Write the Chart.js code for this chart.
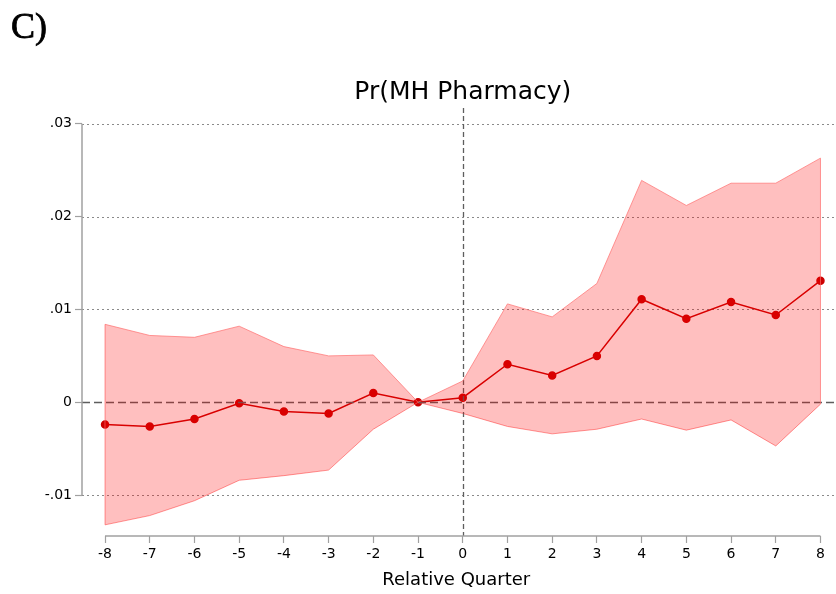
<!DOCTYPE html>
<html>
<head>
<meta charset="utf-8">
<script src="https://cdn.jsdelivr.net/npm/chart.js@4"></script>
<style>
  html, body { margin: 0; padding: 0; background: #fff; }
  #wrap { position: relative; width: 836px; height: 594px; }
</style>
</head>
<body>
<div id="wrap"><canvas id="eventChart" width="836" height="594"></canvas></div>
<script>
// event-study coefficients, Pr(MH Pharmacy)
const quarters = [-8, -7, -6, -5, -4, -3, -2, -1, 0, 1, 2, 3, 4, 5, 6, 7, 8];
const coef    = [-0.0024, -0.0026, -0.0018, -0.0001, -0.0010, -0.0012, 0.0010, 0, 0.0005, 0.0041, 0.0029, 0.0050, 0.0111, 0.0090, 0.0108, 0.0094, 0.0131];
const ciUpper = [0.0084, 0.0072, 0.0070, 0.0082, 0.0060, 0.0050, 0.0051, 0, 0.0023, 0.0106, 0.0092, 0.0128, 0.0239, 0.0212, 0.0236, 0.0236, 0.0263];
const ciLower = [-0.0132, -0.0122, -0.0106, -0.0084, -0.0079, -0.0073, -0.0029, 0, -0.0012, -0.0026, -0.0034, -0.0029, -0.0018, -0.0030, -0.0019, -0.0047, -0.0002];
const yTicks = [-0.01, 0, 0.01, 0.02, 0.03];

const FONT = '"DejaVu Sans", "Liberation Sans", Arial, sans-serif';
const toXY = arr => quarters.map((q, i) => ({ x: q, y: arr[i] }));

function fmtTick(v) {
    if (Math.abs(v) < 1e-9) return '0';
    return v.toFixed(2).replace('0.', '.');
}

// stata-style axes, grid, reference lines, labels
const decorations = {
    id: 'decorations',
    beforeDatasetsDraw(chart) {
        const { ctx, chartArea, scales: { y } } = chart;
        ctx.save();
        ctx.strokeStyle = '#8a8a8a';
        ctx.lineWidth = 1;
        ctx.setLineDash([2, 3]);
        yTicks.forEach(v => {
            if (v === 0) return;
            const py = Math.round(y.getPixelForValue(v)) + 0.5;
            ctx.beginPath();
            ctx.moveTo(chartArea.left, py);
            ctx.lineTo(chart.width, py);
            ctx.stroke();
        });
        ctx.restore();
    },
    afterDatasetDraw(chart, args) {
        if (args.index !== 1) return;
        const { ctx, chartArea, scales: { x, y } } = chart;
        ctx.save();
        ctx.strokeStyle = '#5e5e5e';
        ctx.lineWidth = 1.3;
        ctx.setLineDash([8, 4]);
        const y0 = Math.round(y.getPixelForValue(0)) + 0.5;
        ctx.beginPath();
        ctx.moveTo(chartArea.left, y0);
        ctx.lineTo(chart.width, y0);
        ctx.stroke();
        ctx.setLineDash([5, 3]);
        const x0 = Math.round(x.getPixelForValue(0)) + 0.5;
        ctx.beginPath();
        ctx.moveTo(x0, chartArea.top);
        ctx.lineTo(x0, chartArea.bottom);
        ctx.stroke();
        // band end edges
        ctx.setLineDash([]);
        ctx.strokeStyle = 'rgba(255,110,110,0.7)';
        ctx.lineWidth = 1;
        [0, quarters.length - 1].forEach(i => {
            const px = x.getPixelForValue(quarters[i]);
            ctx.beginPath();
            ctx.moveTo(px, y.getPixelForValue(ciUpper[i]));
            ctx.lineTo(px, y.getPixelForValue(ciLower[i]));
            ctx.stroke();
        });
        ctx.restore();
    },
    afterDraw(chart) {
        const { ctx, chartArea, scales: { x, y } } = chart;
        ctx.save();
        ctx.strokeStyle = '#a0a0a0';
        ctx.lineWidth = 1.5;
        ctx.beginPath();
        ctx.moveTo(chartArea.left, y.getPixelForValue(yTicks[yTicks.length - 1]));
        ctx.lineTo(chartArea.left, y.getPixelForValue(yTicks[0]));
        ctx.stroke();
        ctx.beginPath();
        ctx.moveTo(x.getPixelForValue(quarters[0]), chartArea.bottom);
        ctx.lineTo(x.getPixelForValue(quarters[quarters.length - 1]), chartArea.bottom);
        ctx.stroke();

        ctx.fillStyle = '#000';
        ctx.textAlign = 'center';
        ctx.textBaseline = 'alphabetic';
        ctx.font = '25px ' + FONT;
        ctx.fillText('Pr(MH Pharmacy)', x.getPixelForValue(0), 99);
        ctx.textAlign = 'left';
        ctx.font = '36px "Liberation Serif", "Times New Roman", serif';
        ctx.strokeStyle = '#000';
        ctx.lineWidth = 0.8;
        ctx.fillText('C)', 11, 38);
        ctx.strokeText('C)', 11, 38);
        ctx.restore();
    }
};

new Chart(document.getElementById('eventChart'), {
    type: 'line',
    data: {
        datasets: [
            {
                label: 'upper',
                data: toXY(ciUpper),
                borderColor: 'rgba(255,110,110,0.7)',
                borderWidth: 1,
                backgroundColor: 'rgba(255,0,0,0.25)',
                pointRadius: 0,
                fill: '+1',
                tension: 0
            },
            {
                label: 'lower',
                data: toXY(ciLower),
                borderColor: 'rgba(255,110,110,0.7)',
                borderWidth: 1,
                pointRadius: 0,
                fill: false,
                tension: 0
            },
            {
                label: 'coef',
                data: toXY(coef),
                borderColor: '#cc0000',
                borderWidth: 1.5,
                backgroundColor: '#cc0000',
                pointBackgroundColor: '#cc0000',
                pointBorderColor: '#cc0000',
                pointRadius: 3.5,
                fill: false,
                tension: 0
            }
        ]
    },
    options: {
        responsive: false,
        animation: false,
        layout: { padding: { top: 108, left: 0, right: 0, bottom: 0 } },
        plugins: {
            legend: { display: false },
            tooltip: { enabled: false }
        },
        scales: {
            x: {
                type: 'linear',
                min: -8.515,
                max: 8.224,
                afterBuildTicks: scale => { scale.ticks = quarters.map(v => ({ value: v })); },
                afterFit: scale => { scale.height = 58; },
                grid: {
                    drawOnChartArea: false,
                    drawTicks: true,
                    tickLength: 7,
                    tickColor: '#a0a0a0',
                    tickWidth: 1.2
                },
                border: { display: false },
                ticks: {
                    color: '#000',
                    padding: 3,
                    maxRotation: 0,
                    autoSkip: false,
                    font: { family: FONT, size: 14 },
                    callback: v => String(v)
                },
                title: {
                    display: true,
                    text: 'Relative Quarter',
                    color: '#000',
                    font: { family: FONT, size: 18 },
                    padding: { top: 0, bottom: 3 }
                }
            },
            y: {
                type: 'linear',
                min: -0.0144,
                max: 0.0317,
                afterBuildTicks: scale => { scale.ticks = yTicks.map(v => ({ value: v })); },
                afterFit: scale => { scale.width = 82; },
                grid: {
                    drawOnChartArea: false,
                    drawTicks: true,
                    tickLength: 7,
                    tickColor: '#a0a0a0',
                    tickWidth: 1.2
                },
                border: { display: false },
                ticks: {
                    color: '#000',
                    padding: 3,
                    font: { family: FONT, size: 14 },
                    callback: v => fmtTick(v)
                }
            }
        }
    },
    plugins: [decorations]
});
</script>
</body>
</html>
